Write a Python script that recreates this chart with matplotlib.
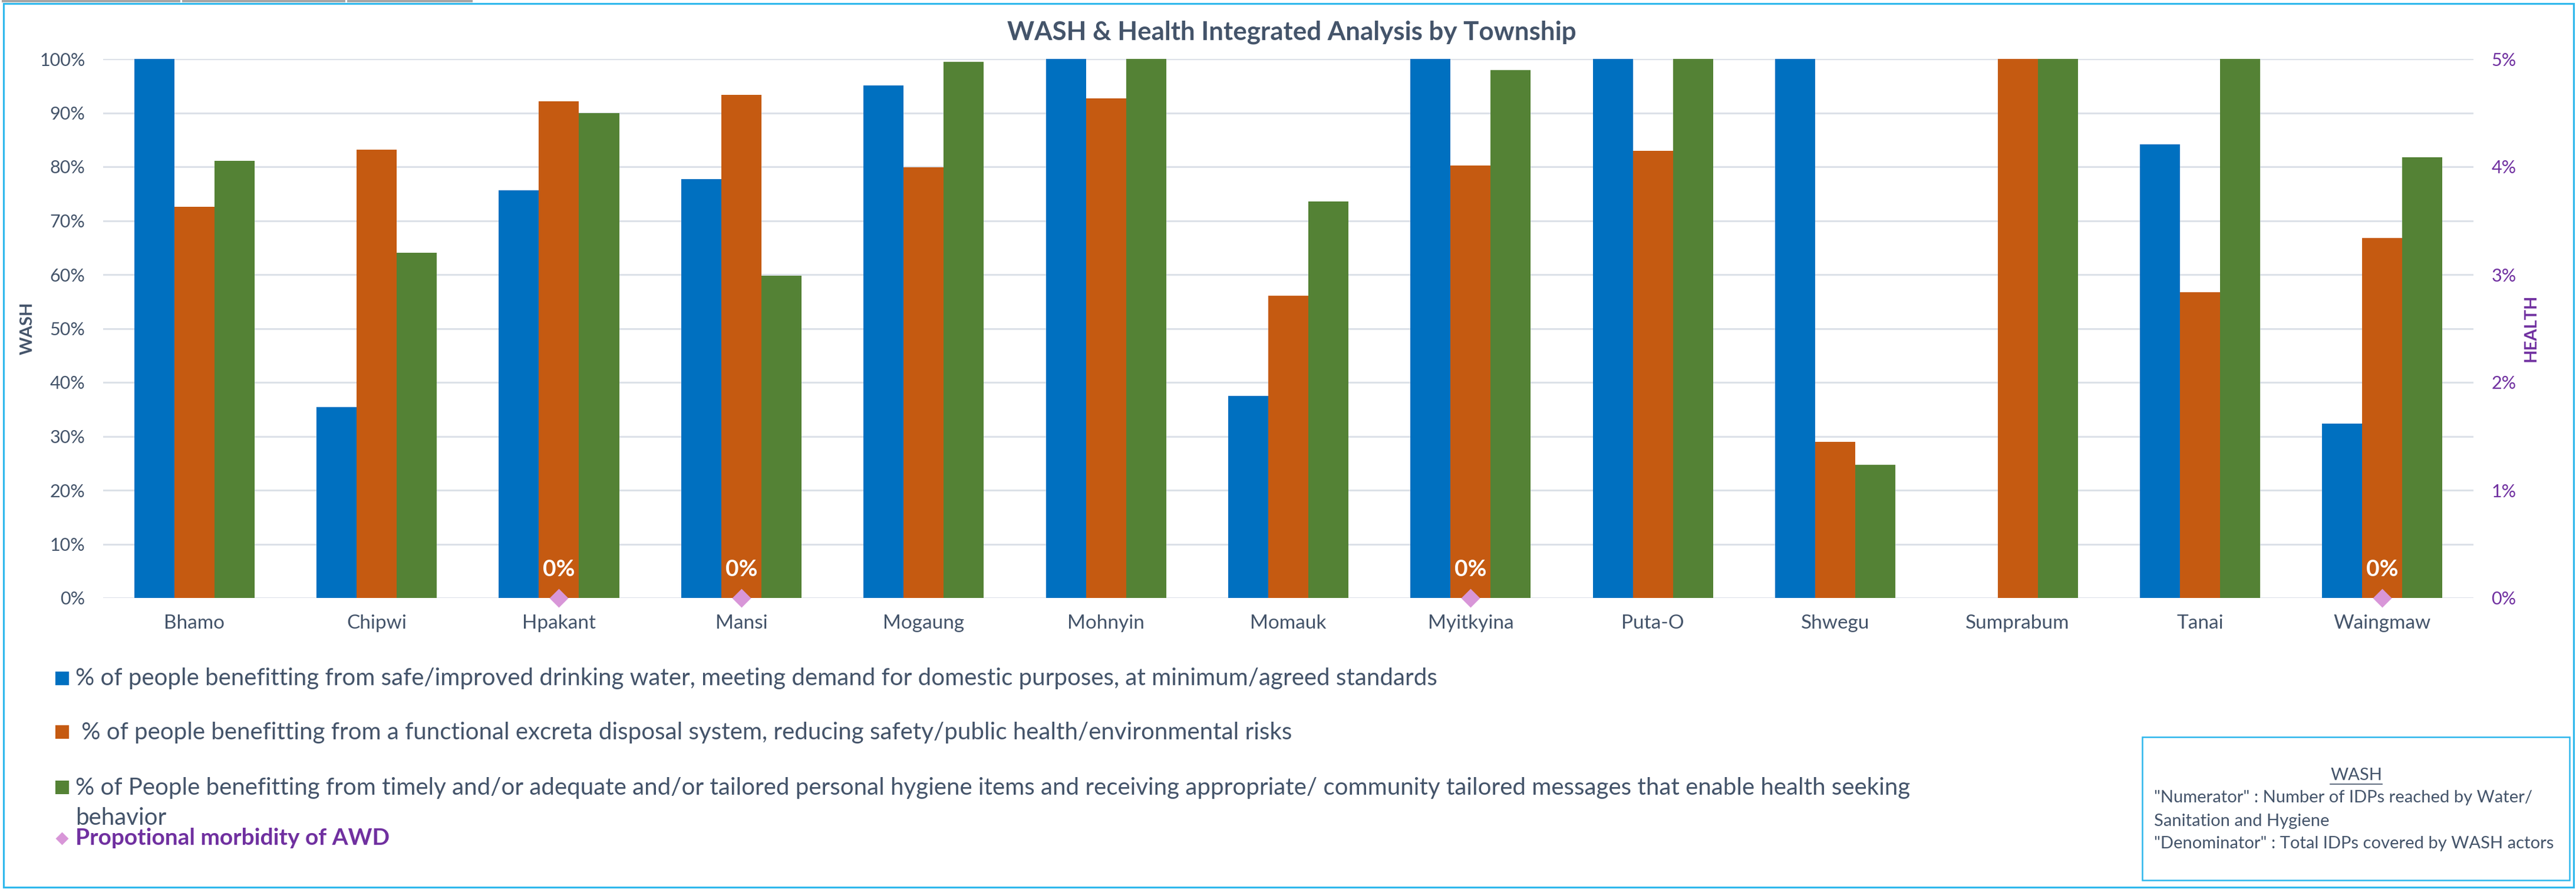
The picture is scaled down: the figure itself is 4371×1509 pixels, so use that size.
"""WASH & Health integrated analysis by township (bar + marker combo chart)."""

import matplotlib

matplotlib.use("Agg")
import matplotlib.pyplot as plt
import numpy as np
from matplotlib.lines import Line2D
from matplotlib.patches import Rectangle
from matplotlib.ticker import MultipleLocator, PercentFormatter

townships = ["Bhamo", "Chipwi", "Hpakant", "Mansi", "Mogaung", "Mohnyin", "Momauk",
             "Myitkyina", "Puta-O", "Shwegu", "Sumprabum", "Tanai", "Waingmaw"]
water = [100, 35.4, 75.6, 77.7, 95.1, 100, 37.5, 100, 100, 100, 0, 84.1, 32.3]
sanitation = [72.6, 83.2, 92.1, 93.3, 79.9, 92.7, 56.1, 80.2, 83.0, 29.0, 100, 56.7, 66.8]
hygiene = [81.1, 64.0, 89.9, 59.8, 99.4, 100, 73.5, 97.9, 100, 24.7, 100, 100, 81.8]
awd_morbidity = [np.nan, np.nan, 0, 0, np.nan, np.nan, np.nan, 0, np.nan, np.nan, np.nan, np.nan, 0]

series_labels = [
    "% of people benefitting from safe/improved drinking water, meeting demand for domestic purposes, at minimum/agreed standards",
    " % of people benefitting from a functional excreta disposal system, reducing safety/public health/environmental risks",
    "% of People benefitting from timely and/or adequate and/or tailored personal hygiene items and receiving appropriate/ community tailored messages that enable health seeking\nbehavior",
]
awd_label = "Propotional morbidity of AWD"
note_title = "WASH"
note_lines = ['"Numerator" : Number of IDPs reached by Water/', "Sanitation and Hygiene",
              '"Denominator" : Total IDPs covered by WASH actors']

W, H, DPI = 4371, 1509, 200
TEXT = "#44546A"
PURPLE = "#7030A0"
BORDER = "#2DB7EC"
DIAMOND = "#D896D8"
colors = ["#0070C0", "#C55A11", "#548235"]

plt.rcParams["font.family"] = ["Lato", "DejaVu Sans"]


def fx(px):
    return px / W


def fy(py):
    return 1 - py / H


fig = plt.figure(figsize=(W / DPI, H / DPI), dpi=DPI)

# screenshot frame: grey tabs and light-blue border
for x0, x1 in [(3, 306), (309, 586), (589, 802)]:
    fig.patches.append(Rectangle((fx(x0), fy(4)), fx(x1 - x0), 4 / H, transform=fig.transFigure,
                                 facecolor="#A6A6A6", edgecolor="none"))
fig.patches.append(Rectangle((fx(6), fy(1506)), fx(4361), 1500 / H, transform=fig.transFigure,
                             facecolor="none", edgecolor=BORDER, lw=1.1))

ax = fig.add_axes([fx(175), fy(1015), fx(4197) - fx(175), fy(100) - fy(1015)])
x = np.arange(len(townships))
bw = 0.22
for i, (vals, c) in enumerate(zip([water, sanitation, hygiene], colors)):
    ax.bar(x + (i - 1) * bw, vals, bw, color=c, zorder=2)

ax.set_xlim(-0.5, len(townships) - 0.5)
ax.set_ylim(0, 100)
ax.yaxis.set_major_locator(MultipleLocator(10))
ax.yaxis.set_major_formatter(PercentFormatter(decimals=0))
ax.grid(axis="y", color="#DCE1E8", lw=1.1, zorder=0)
ax.set_axisbelow(True)
for s in ax.spines.values():
    s.set_visible(False)
ax.set_xticks(x, townships)
ax.tick_params(length=0)
ax.tick_params(axis="y", pad=11, labelsize=11, labelcolor=TEXT)
ax.tick_params(axis="x", pad=10, labelsize=12, labelcolor=TEXT)

ax2 = ax.twinx()
ax2.set_ylim(0, 5)
ax2.yaxis.set_major_locator(MultipleLocator(1))
ax2.yaxis.set_major_formatter(PercentFormatter(decimals=0))
ax2.tick_params(length=0, pad=11, labelsize=11, labelcolor=PURPLE)
for s in ax2.spines.values():
    s.set_visible(False)
ax2.plot(x, awd_morbidity, "D", ms=8, color=DIAMOND, mec="none", clip_on=False, zorder=5)
for xi, v in zip(x, awd_morbidity):
    if not np.isnan(v):
        ax2.annotate(f"{v:.0f}%", (xi, v), xytext=(0, 17.6), textcoords="offset points",
                     ha="center", va="center", color="white", fontweight="bold", fontsize=14)

fig.text(fx(47), fy(557), "WASH", rotation=90, ha="center", va="center",
         fontsize=10.5, fontweight="bold", color=TEXT)
fig.text(fx(4295), fy(557), "HEALTH", rotation=90, ha="center", va="center",
         fontsize=10.5, fontweight="bold", color=PURPLE)
fig.text(fx(2192), fy(55), "WASH & Health Integrated Analysis by Township", ha="center", va="center",
         fontsize=15.8, fontweight="bold", color=TEXT)

# legend (drawn by hand to keep Excel-like spacing)
for label, c, yc in zip(series_labels, colors, [1152, 1243, 1337]):
    fig.patches.append(Rectangle((fx(94), fy(yc + 11)), fx(23), 23 / H, transform=fig.transFigure,
                                 facecolor=c, edgecolor="none"))
    for k, line in enumerate(label.split("\n")):
        fig.text(fx(128), fy(yc + 51 * k), line, ha="left", va="center", fontsize=14.5, color=TEXT)
fig.lines.append(Line2D([fx(105)], [fy(1423)], marker="D", ms=5.8, color=DIAMOND, mec="none",
                        transform=fig.transFigure))
fig.text(fx(128), fy(1423), awd_label, ha="left", va="center", fontsize=14,
         fontweight="bold", color=PURPLE)

# definition box
fig.patches.append(Rectangle((fx(3635), fy(1494)), fx(725), 243 / H, transform=fig.transFigure,
                             facecolor="white", edgecolor=BORDER, lw=0.9))
t = fig.text(fx(3998), fy(1316), note_title, ha="center", va="center", fontsize=10.5, color=TEXT)
for line, yc in zip(note_lines, [1354, 1394, 1432]):
    fig.text(fx(3655), fy(yc), line, ha="left", va="center", fontsize=10.5, color=TEXT)
fig.canvas.draw()
bb = t.get_window_extent().transformed(fig.transFigure.inverted())
fig.lines.append(Line2D([bb.x0, bb.x1], [fy(1331)] * 2, color=TEXT, lw=0.6, transform=fig.transFigure))

fig.savefig("out.png", dpi=DPI)
